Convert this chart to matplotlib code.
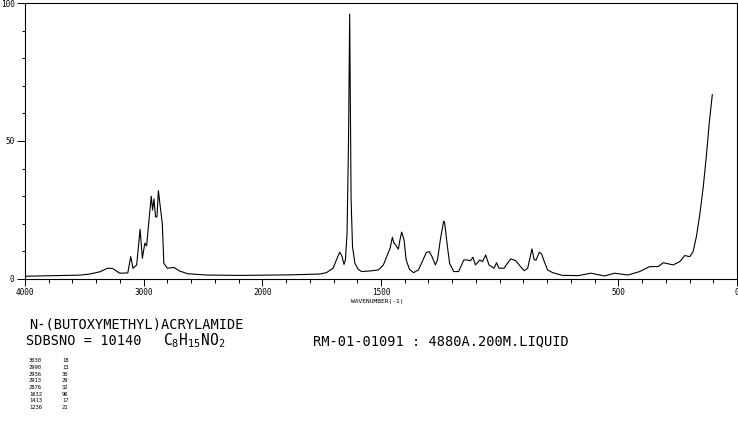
import numpy as np
import matplotlib
matplotlib.use("Agg")
import matplotlib.pyplot as plt
from matplotlib.ticker import FixedLocator

plt.rcParams['font.family'] = ['DejaVu Sans Mono']
plt.rcParams['mathtext.fontset'] = 'custom'
plt.rcParams['mathtext.rm'] = 'DejaVu Sans Mono'
plt.rcParams['mathtext.default'] = 'rm'

# spectrum (wavenumber, relative intensity)
wavenumber = [4000, 3874, 3706, 3538, 3454, 3370, 3303, 3261, 3202, 3134,
              3109, 3090, 3059, 3030, 3011, 2990, 2975, 2956, 2936, 2925,
              2913, 2900, 2888, 2876, 2862, 2843, 2830, 2800, 2746, 2698,
              2628, 2473, 2193, 2000, 1886, 1758, 1730, 1702, 1688, 1674,
              1665, 1656, 1650, 1643, 1637, 1632, 1626, 1620, 1610, 1596,
              1582, 1547, 1511, 1490, 1476, 1462, 1452, 1445, 1438, 1427,
              1420, 1413, 1403, 1394, 1380, 1363, 1342, 1323, 1309, 1297,
              1285, 1271, 1262, 1250, 1236, 1232, 1222, 1211, 1194, 1173,
              1151, 1137, 1123, 1113, 1102, 1084, 1072, 1059, 1045, 1024,
              1013, 1003, 982, 967, 953, 932, 918, 897, 882, 871,
              864, 855, 847, 833, 823, 812, 798, 777, 756, 735,
              713, 671, 615, 558, 516, 459, 410, 368, 332, 311,
              269, 241, 220, 199, 185, 171, 156, 142, 128, 117,
              104]
intensity = [1.0, 1.1, 1.2, 1.4, 1.8, 2.6, 3.9, 3.8, 2.1, 2.2,
             8.1, 3.9, 5.1, 18, 7.5, 13, 12, 21, 30, 25,
             29, 22.5, 22.5, 32, 27, 20, 5.7, 3.9, 4.2, 2.9,
             1.9, 1.45, 1.3, 1.4, 1.5, 1.8, 2.3, 3.9, 6.9, 9.7,
             8.4, 5.3, 6.9, 16.6, 49, 96, 28.7, 11.7, 5.7, 3.5,
             2.7, 2.9, 3.3, 5.1, 8.1, 11.1, 15.1, 13, 12.3, 10.8,
             14.2, 17, 14.2, 6.9, 3.5, 2.3, 3.3, 6.9, 9.6, 9.9,
             8.1, 5.1, 6.9, 14.2, 21, 20.5, 13, 5.7, 2.7, 2.7,
             6.9, 6.9, 6.6, 7.9, 5.1, 6.9, 6.3, 8.7, 5.1, 3.9,
             5.9, 3.9, 3.9, 5.7, 7.3, 6.6, 5.1, 3.0, 3.9, 8.1,
             10.9, 7.1, 6.8, 9.7, 9.0, 6.3, 3.3, 2.3, 1.8, 1.3,
             1.3, 1.2, 2.1, 1.1, 2.1, 1.45, 2.7, 4.5, 4.5, 5.9,
             5.1, 6.3, 8.5, 8.1, 9.9, 15.4, 23.8, 33.5, 45.6, 56.5,
             66.8]

# peak table
peak_wn = ["3030", "2990", "2936", "2913", "2876", "1632", "1413", "1236"]
peak_int = ["18", "13", "30", "29", "32", "96", "17", "21"]

x_major = [4000, 3000, 2000, 1500, 500, 0]
x_labels = ["4000", "3000", "2000", "1500", "500", "0"]
y_major = [0, 50, 100]


# axis is compressed 2x above 2000 cm-1
def fwd(x):
    x = np.asarray(x, dtype=float)
    return np.where(x <= 2000, x, 2000 + (x - 2000) / 2)


def inv(u):
    u = np.asarray(u, dtype=float)
    return np.where(u <= 2000, u, 2000 + (u - 2000) * 2)


W, H = 738, 437
fig = plt.figure(figsize=(W / 100, H / 100), dpi=100)
ax = fig.add_axes([25 / W, 158 / H, 712 / W, 276 / H])

ax.plot(wavenumber, intensity, color='black', lw=0.8)

ax.set_xscale('function', functions=(fwd, inv))
ax.set_xlim(4000, 0)
ax.set_ylim(0, 100)

minor_x = list(range(4000, 2000, -200)) + list(range(2000, -1, -100))
ax.xaxis.set_major_locator(FixedLocator(x_major))
ax.xaxis.set_minor_locator(FixedLocator(minor_x))
ax.set_xticklabels(x_labels)
ax.yaxis.set_major_locator(FixedLocator(y_major))
ax.yaxis.set_minor_locator(FixedLocator(list(range(0, 101, 10))))

ax.tick_params(axis='x', which='major', length=5, width=0.7, pad=1.5, labelsize=5.6)
ax.tick_params(axis='x', which='minor', length=2.8, width=0.7)
ax.tick_params(axis='y', which='major', length=6, width=0.7, pad=1.5, labelsize=5.6)
ax.tick_params(axis='y', which='minor', length=2.2, width=0.7)
for s in ax.spines.values():
    s.set_linewidth(0.8)

fig.text(377 / W, 1 - 301 / H, "WAVENUMBER(-1)", fontsize=4.5,
         ha='center', va='center')

fig.text(29 / W, 1 - 324 / H, "N-(BUTOXYMETHYL)ACRYLAMIDE", fontsize=9.8,
         ha='left', va='center')
fig.text(26 / W, 1 - 341 / H, "SDBSNO = 10140", fontsize=9.8,
         ha='left', va='center')
fig.text(163 / W, 1 - 341 / H, r"C$_8$H$_{15}$NO$_2$", fontsize=10.5,
         ha='left', va='center')
fig.text(313 / W, 1 - 341 / H, "RM-01-01091 : 4880A.200M.LIQUID", fontsize=9.8,
         ha='left', va='center')

for i, (w, v) in enumerate(zip(peak_wn, peak_int)):
    y = 1 - (361 + i * 6.6) / H
    fig.text(29 / W, y, w, fontsize=4.0, ha='left', va='center')
    fig.text(62 / W, y, v, fontsize=4.0, ha='left', va='center')

fig.savefig("out.png", dpi=100)
